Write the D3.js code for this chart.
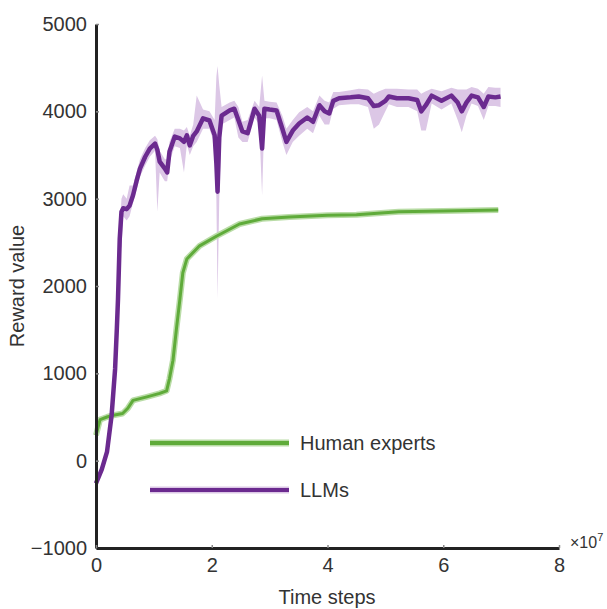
<!DOCTYPE html>
<html>
<head>
<meta charset="utf-8">
<script src="https://cdn.jsdelivr.net/npm/d3@7.9.0/dist/d3.min.js"></script>
<style>
  body { margin: 0; background: #fff; }
  svg text { font-family: "Liberation Sans", Arial, sans-serif; fill: #333; }
</style>
</head>
<body>
<svg id="chart" width="607" height="609"></svg>
<script>
// time steps in units of 1e7
const humanX = [0, 0.07, 0.19, 0.3, 0.46, 0.55, 0.64, 0.88, 1.1, 1.22, 1.27, 1.33, 1.39, 1.45, 1.5, 1.57, 1.79, 2.08, 2.48, 2.87, 3.34, 4.0, 4.5, 5.23, 6.0, 6.95];
const humanY = [290, 470, 500, 520, 540, 600, 690, 730, 770, 800, 940, 1150, 1510, 1850, 2150, 2310, 2460, 2570, 2710, 2770, 2790, 2810, 2815, 2850, 2860, 2870];

const llmX = [0, 0.1, 0.19, 0.27, 0.33, 0.36, 0.38, 0.41, 0.44, 0.47, 0.53, 0.58, 0.64, 0.7, 0.76, 0.85, 0.93, 1.02, 1.06, 1.1,
  1.19, 1.23, 1.27, 1.36, 1.45, 1.52, 1.57, 1.62, 1.68, 1.74, 1.85, 1.96, 2.05, 2.08, 2.1, 2.13, 2.17, 2.31, 2.39, 2.46,
  2.53, 2.62, 2.74, 2.82, 2.87, 2.91, 3.0, 3.12, 3.22, 3.29, 3.4, 3.51, 3.65, 3.75, 3.86, 3.95, 4.03, 4.1, 4.2, 4.4,
  4.54, 4.7, 4.8, 4.89, 5.0, 5.06, 5.2, 5.4, 5.55, 5.62, 5.7, 5.8, 5.97, 6.14, 6.25, 6.32, 6.4, 6.49, 6.6, 6.7,
  6.78, 6.9, 6.99];
const llmMean = [-260, -100, 100, 520, 1050, 1510, 1850, 2540, 2850, 2890, 2880, 2920, 3040, 3200, 3345, 3480, 3574, 3630, 3560, 3425,
  3345, 3300, 3540, 3710, 3690, 3650, 3725, 3610, 3720, 3770, 3920, 3895, 3725, 3400, 3080, 3700, 3950, 4010, 4030, 3900,
  3770, 3750, 4030, 3950, 3574, 4030, 4020, 4010, 3800, 3650, 3780, 3860, 3930, 3880, 4070, 4000, 3975, 4120, 4150, 4160,
  4170, 4150, 4060, 4070, 4120, 4170, 4150, 4150, 4130, 4000, 4070, 4180, 4120, 4180, 4100, 4000, 4100, 4180, 4160, 4050,
  4170, 4160, 4170];
const llmLo = [-300, -150, 50, 400, 950, 1400, 1750, 2400, 2450, 2800, 2750, 2800, 2950, 3100, 3250, 3380, 3480, 3550, 2850, 3300,
  3200, 3200, 3420, 3600, 3580, 3300, 3620, 3500, 3600, 3650, 3800, 3800, 3620, 3000, 1850, 3000, 3850, 3900, 3930, 3700,
  3650, 3650, 3930, 3850, 3035, 3920, 3920, 3900, 3650, 3500, 3650, 3720, 3800, 3750, 3950, 3850, 3850, 4030, 4070, 4080,
  4080, 4050, 3800, 3850, 4000, 4080, 4050, 4050, 4000, 3780, 3780, 4090, 4020, 4090, 3900, 3760, 3950, 4090, 4060, 3900,
  4060, 4060, 4050];
const llmHi = [-220, -50, 150, 650, 1150, 1600, 1950, 2650, 3000, 3050, 3000, 3150, 3150, 3300, 3450, 3580, 3670, 3720, 3680, 3550,
  3450, 3450, 3650, 3800, 3800, 3780, 3820, 3720, 3850, 4180, 4020, 4000, 3900, 4400, 4520, 4300, 4050, 4100, 4120, 4050,
  3880, 3900, 4120, 4050, 4410, 4120, 4110, 4100, 3950, 3800, 3900, 3990, 4050, 4000, 4180, 4120, 4100, 4220, 4220, 4240,
  4260, 4250, 4200, 4230, 4260, 4260, 4260, 4250, 4250, 4200, 4230, 4260, 4230, 4270, 4250, 4250, 4250, 4280, 4260, 4200,
  4280, 4270, 4270];

const xTicks = [0, 2, 4, 6, 8];
const yTicks = [-1000, 0, 1000, 2000, 3000, 4000, 5000];
const legendLabels = ['Human experts', 'LLMs'];

const green = '#5fab3a', greenLight = '#b9dca6';
const purple = '#6b2a8f', purpleLight = '#dcc7e6';

const svg = d3.select('#chart');
const x = d3.scaleLinear().domain([0, 8]).range([96, 559]);
const y = d3.scaleLinear().domain([-1000, 5000]).range([548, 24]);

// shaded band for LLMs
const llmPts = llmX.map((d, i) => ({ x: d, m: llmMean[i], lo: llmLo[i], hi: llmHi[i] }));
svg.append('path')
  .datum(llmPts)
  .attr('fill', purpleLight)
  .attr('d', d3.area().x(d => x(d.x)).y0(d => y(d.lo)).y1(d => y(d.hi)));

// human experts line
const humanPts = humanX.map((d, i) => ({ x: d, v: humanY[i] }));
const humanLine = d3.line().x(d => x(d.x)).y(d => y(d.v));
svg.append('path').datum(humanPts)
  .attr('fill', 'none').attr('stroke', greenLight).attr('stroke-width', 6)
  .attr('stroke-linejoin', 'round').attr('d', humanLine);
svg.append('path').datum(humanPts)
  .attr('fill', 'none').attr('stroke', green).attr('stroke-width', 3)
  .attr('stroke-linejoin', 'round').attr('d', humanLine);

// LLM mean line
svg.append('path').datum(llmPts)
  .attr('fill', 'none').attr('stroke', purple).attr('stroke-width', 4.5)
  .attr('stroke-linejoin', 'round')
  .attr('d', d3.line().x(d => x(d.x)).y(d => y(d.m)));

// axes
const yAxis = svg.append('g').attr('transform', `translate(${x(0)},0)`)
  .call(d3.axisLeft(y).tickValues(yTicks).tickSizeInner(-3).tickSizeOuter(0).tickPadding(9)
    .tickFormat(d => d < 0 ? '\u2212' + Math.abs(d) : d));
const xAxis = svg.append('g').attr('transform', `translate(0,${y(-1000)})`)
  .call(d3.axisBottom(x).tickValues(xTicks).tickSizeInner(-3).tickSizeOuter(0).tickPadding(10));

[yAxis, xAxis].forEach(g => {
  g.select('.domain').attr('stroke', '#222').attr('stroke-width', 3);
  g.selectAll('.tick line').attr('stroke', '#888').attr('stroke-width', 1.5);
  g.selectAll('.tick text').attr('font-size', 20).attr('fill', '#333')
    .style('font-family', '"Liberation Sans", Arial, sans-serif');
});

svg.append('text')
  .attr('transform', `translate(24,${y(2000)}) rotate(-90)`)
  .attr('text-anchor', 'middle')
  .attr('font-size', 20)
  .text('Reward value');

svg.append('text')
  .attr('x', 327).attr('y', 604)
  .attr('text-anchor', 'middle')
  .attr('font-size', 20)
  .text('Time steps');

const mult = svg.append('text').attr('x', 570).attr('y', 548).attr('font-size', 16);
mult.append('tspan').text('\u00d710');
mult.append('tspan').attr('dy', -7).attr('font-size', 11).text('7');

// legend
const legendColors = [[green, greenLight], [purple, purpleLight]];
const legendY = [443, 490];
legendLabels.forEach((lab, i) => {
  svg.append('line').attr('x1', 150).attr('x2', 289).attr('y1', legendY[i]).attr('y2', legendY[i])
    .attr('stroke', legendColors[i][1]).attr('stroke-width', 7);
  svg.append('line').attr('x1', 150).attr('x2', 289).attr('y1', legendY[i]).attr('y2', legendY[i])
    .attr('stroke', legendColors[i][0]).attr('stroke-width', 4);
  svg.append('text').attr('x', 300).attr('y', legendY[i]).attr('dy', '0.35em')
    .attr('font-size', 20).text(lab);
});
</script>
</body>
</html>
